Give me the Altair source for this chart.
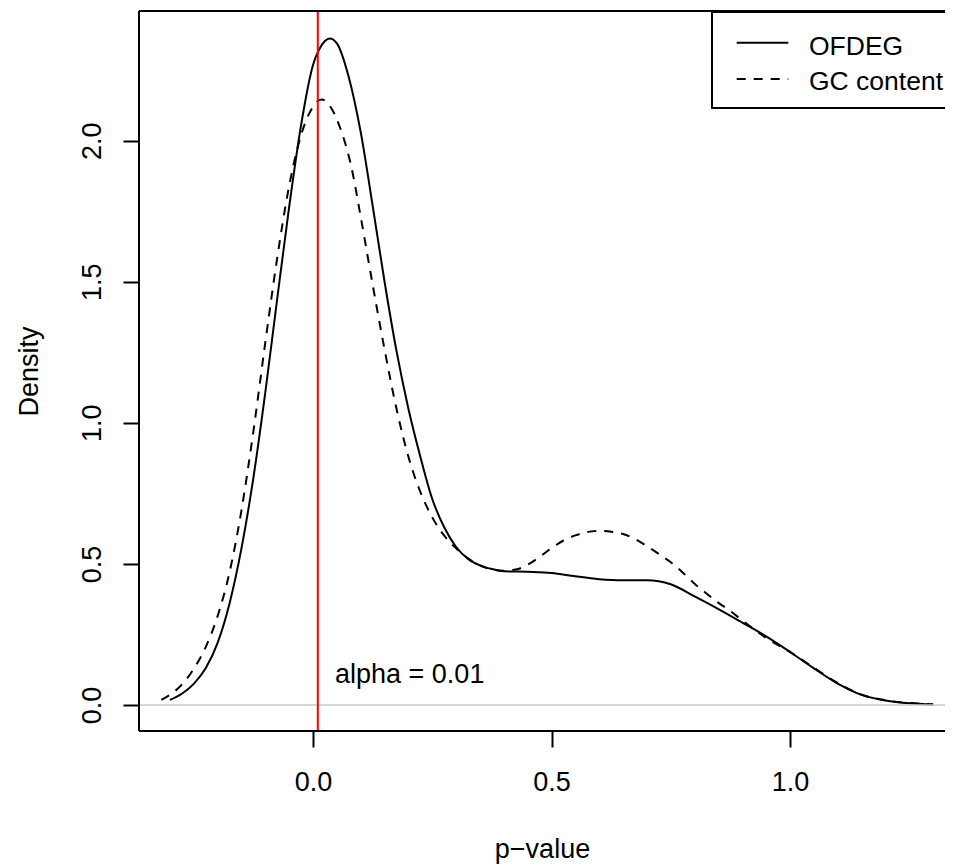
import altair as alt
import pandas as pd

# ---- data ----
series_names = ["OFDEG", "GC content"]

ofdeg_x = [-0.30, -0.275, -0.25, -0.225, -0.20, -0.175, -0.15, -0.125, -0.10, -0.075,
           -0.05, -0.025, 0.0, 0.0125, 0.025, 0.035, 0.05, 0.075, 0.10, 0.125,
           0.15, 0.175, 0.20, 0.225, 0.25, 0.275, 0.30, 0.325, 0.35, 0.375,
           0.40, 0.45, 0.50, 0.55, 0.60, 0.65, 0.70, 0.75, 0.80, 0.85,
           0.90, 0.95, 1.00, 1.05, 1.10, 1.15, 1.20, 1.25, 1.30]
ofdeg_y = [0.018, 0.040, 0.075, 0.130, 0.220, 0.360, 0.555, 0.805, 1.108, 1.440,
           1.765, 2.055, 2.268, 2.322, 2.353, 2.362, 2.345, 2.225, 2.030, 1.770,
           1.500, 1.255, 1.050, 0.880, 0.730, 0.630, 0.560, 0.518, 0.495, 0.482,
           0.474, 0.472, 0.468, 0.456, 0.446, 0.442, 0.442, 0.428, 0.385, 0.340,
           0.292, 0.243, 0.188, 0.130, 0.076, 0.036, 0.016, 0.006, 0.002]

gc_x = [-0.318, -0.30, -0.275, -0.25, -0.225, -0.20, -0.175, -0.15, -0.125, -0.10,
        -0.075, -0.05, -0.025, 0.0, 0.018, 0.04, 0.06, 0.08, 0.10, 0.125,
        0.15, 0.175, 0.20, 0.225, 0.25, 0.275, 0.30, 0.325, 0.35, 0.375,
        0.40, 0.425, 0.45, 0.475, 0.50, 0.525, 0.55, 0.575, 0.60, 0.625,
        0.65, 0.675, 0.70, 0.725, 0.75, 0.775, 0.80, 0.825, 0.85, 0.875,
        0.90, 0.925, 0.95, 0.975, 1.00, 1.05, 1.10, 1.15, 1.20, 1.25, 1.30]
gc_y = [0.018, 0.036, 0.072, 0.128, 0.205, 0.315, 0.470, 0.690, 0.970, 1.285,
        1.585, 1.840, 2.020, 2.120, 2.146, 2.110, 2.030, 1.910, 1.730, 1.490,
        1.260, 1.050, 0.880, 0.755, 0.665, 0.600, 0.555, 0.520, 0.495, 0.480,
        0.476, 0.480, 0.497, 0.525, 0.556, 0.583, 0.601, 0.613, 0.617, 0.614,
        0.606, 0.588, 0.563, 0.535, 0.506, 0.470, 0.430, 0.395, 0.362, 0.333,
        0.300, 0.268, 0.238, 0.212, 0.188, 0.132, 0.078, 0.037, 0.017, 0.007, 0.002]

x_ticks = [0.0, 0.5, 1.0]
y_ticks = [0.0, 0.5, 1.0, 1.5, 2.0]
alpha_value = 0.01
annot_text = "alpha = 0.01"
annot_x = 0.2027
annot_y = 0.078

# ---- layout / style ----
FONT = "Liberation Sans"
FS = 27
LEG_FS = 26.5
W, H = 806, 720
X_DOMAIN = [-0.3648, 1.3249]
Y_DOMAIN = [-0.0921, 2.4594]

xs = alt.Scale(domain=X_DOMAIN, nice=False, zero=False)
ys = alt.Scale(domain=Y_DOMAIN, nice=False, zero=False)

curves = pd.DataFrame({
    "p": ofdeg_x + gc_x,
    "density": ofdeg_y + gc_y,
    "series": [series_names[0]] * len(ofdeg_x) + [series_names[1]] * len(gc_x),
})

x_axis = alt.Axis(values=x_ticks, format=".1f", title="p\u2212value", domain=False, grid=False,
                  tickSize=16, tickWidth=2, tickColor="black",
                  labelFont=FONT, labelFontSize=FS, labelColor="black", labelPadding=22,
                  labelBaseline="top", labelFlush=False, labelOverlap=False,
                  titleFont=FONT, titleFontSize=FS, titleFontWeight="normal", titleColor="black",
                  titleX=403, titleY=126, titleBaseline="alphabetic", titleAlign="center")
y_axis = alt.Axis(values=y_ticks, format=".1f", title="Density", domain=False, grid=False,
                  tickSize=16, tickWidth=2, tickColor="black",
                  labelFont=FONT, labelFontSize=FS, labelColor="black", labelPadding=23,
                  labelAngle=270, labelAlign="center", labelBaseline="alphabetic",
                  labelFlush=False, labelOverlap=False,
                  titleFont=FONT, titleFontSize=FS, titleFontWeight="normal", titleColor="black",
                  titleAngle=270, titleX=-102, titleY=H / 2, titleBaseline="alphabetic",
                  titleAlign="center")

X = alt.X("p:Q", scale=xs, axis=x_axis)
Y = alt.Y("density:Q", scale=ys, axis=y_axis)

base = alt.Chart(curves)

solid = base.transform_filter(alt.datum.series == series_names[0]).mark_line(
    color="black", strokeWidth=2, interpolate="monotone"
).encode(x=X, y=Y)

dashed = base.transform_filter(alt.datum.series == series_names[1]).mark_line(
    color="black", strokeWidth=2, interpolate="monotone", strokeDash=[9, 8]
).encode(x=X, y=Y)

zero_line = alt.Chart(pd.DataFrame({"density": [0.0]})).mark_rule(
    color="#c8c8c8", strokeWidth=1.3
).encode(y=Y)

red_line = alt.Chart(pd.DataFrame({"p": [alpha_value]})).mark_rule(
    color="#ff0000", strokeWidth=2
).encode(x=X)

annot = alt.Chart(pd.DataFrame({"p": [annot_x], "density": [annot_y], "label": [annot_text]})).mark_text(
    font=FONT, fontSize=FS, align="center", baseline="alphabetic", color="black"
).encode(x=X, y=Y, text="label:N")

one = pd.DataFrame({"k": [0]})
frame_top = alt.Chart(one).mark_rule(color="black", strokeWidth=2).encode(
    x=alt.value(0), x2=alt.value(W + 20), y=alt.value(0))
frame_bottom = alt.Chart(one).mark_rule(color="black", strokeWidth=2).encode(
    x=alt.value(0), x2=alt.value(W + 20), y=alt.value(H))
frame_left = alt.Chart(one).mark_rule(color="black", strokeWidth=2).encode(
    x=alt.value(0), y=alt.value(0), y2=alt.value(H))

legend_box = alt.Chart(one).mark_rect(fill="white", stroke="black", strokeWidth=2).encode(
    x=alt.value(573), x2=alt.value(W + 40), y=alt.value(1), y2=alt.value(97))
legend_solid = alt.Chart(one).mark_rule(color="black", strokeWidth=2).encode(
    x=alt.value(597.7), x2=alt.value(649.3), y=alt.value(31.7))
legend_dashed = alt.Chart(one).mark_rule(color="black", strokeWidth=2, strokeDash=[9, 8]).encode(
    x=alt.value(597.7), x2=alt.value(649.3), y=alt.value(68))
legend_t1 = alt.Chart(one).mark_text(font=FONT, fontSize=LEG_FS, align="left", baseline="alphabetic",
                                     color="black").encode(
    x=alt.value(670), y=alt.value(44), text=alt.value(series_names[0]))
legend_t2 = alt.Chart(one).mark_text(font=FONT, fontSize=LEG_FS, align="left", baseline="alphabetic",
                                     color="black").encode(
    x=alt.value(670), y=alt.value(79), text=alt.value(series_names[1]))

chart = alt.layer(
    solid, dashed, zero_line, red_line, annot,
    frame_top, frame_bottom, frame_left,
    legend_box, legend_solid, legend_dashed, legend_t1, legend_t2,
).properties(
    width=W, height=H,
    padding={"left": 131, "top": 3, "right": 0, "bottom": 133},
    autosize=alt.AutoSizeParams(type="none"),
    background="white",
).configure_view(stroke=None)

chart.save("out.html", embed_options={"renderer": "svg", "actions": False})
